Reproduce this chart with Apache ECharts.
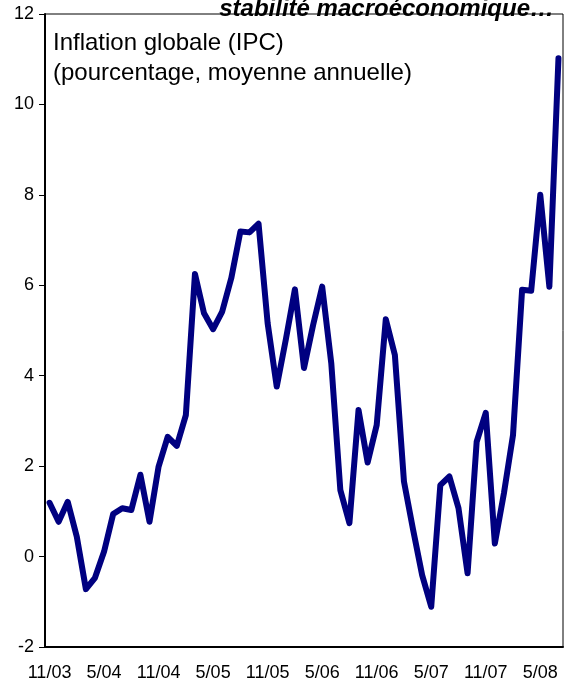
<!DOCTYPE html>
<html>
<head>
<meta charset="utf-8">
<script src="https://cdn.jsdelivr.net/npm/echarts@6/dist/echarts.min.js"></script>
<style>
  html, body { margin: 0; padding: 0; background: #fff; }
  #chart { width: 568px; height: 689px; }
</style>
</head>
<body>
<div id="chart"></div>
<script>
// mois (11/03 -> 7/08)
const months = [
  '11/03','12/03','1/04','2/04','3/04','4/04','5/04','6/04','7/04','8/04','9/04','10/04',
  '11/04','12/04','1/05','2/05','3/05','4/05','5/05','6/05','7/05','8/05','9/05','10/05',
  '11/05','12/05','1/06','2/06','3/06','4/06','5/06','6/06','7/06','8/06','9/06','10/06',
  '11/06','12/06','1/07','2/07','3/07','4/07','5/07','6/07','7/07','8/07','9/07','10/07',
  '11/07','12/07','1/08','2/08','3/08','4/08','5/08','6/08','7/08'
];

// inflation globale IPC, %
const ipc = [
  1.19, 0.77, 1.21, 0.44, -0.72, -0.47, 0.11, 0.94, 1.07, 1.03, 1.81, 0.77,
  1.99, 2.65, 2.45, 3.13, 6.25, 5.38, 5.03, 5.42, 6.16, 7.19, 7.17, 7.36,
  5.16, 3.76, 4.8, 5.91, 4.17, 5.12, 5.97, 4.28, 1.47, 0.74, 3.24, 2.08,
  2.91, 5.25, 4.46, 1.66, 0.6, -0.41, -1.11, 1.58, 1.77, 1.07, -0.37, 2.54,
  3.18, 0.29, 1.40, 2.69, 5.9, 5.88, 8.0, 5.97, 11.02
];

const yTicks = [-2, 12, 2]; // min, max, pas

const font = '"Liberation Sans", Arial, sans-serif';

var chart = echarts.init(document.getElementById('chart'));

chart.setOption({
  animation: false,
  backgroundColor: '#fff',
  title: {
    text: 'stabilité macroéconomique…',
    right: 9,
    top: -8,
    textStyle: {
      fontFamily: font,
      fontSize: 24,
      fontWeight: 'bold',
      fontStyle: 'italic',
      color: '#000'
    }
  },
  graphic: [{
    type: 'text',
    left: 53,
    top: 28,
    style: {
      text: 'Inflation globale (IPC)\n(pourcentage, moyenne annuelle)',
      font: '24px ' + font,
      lineHeight: 30,
      fill: '#000'
    }
  }],
  grid: {
    left: 45,
    right: 5,
    top: 14,
    bottom: 42,
    show: true,
    borderColor: '#000',
    borderWidth: 1
  },
  xAxis: {
    type: 'category',
    data: months,
    boundaryGap: true,
    axisLine: { onZero: false, lineStyle: { color: '#000', width: 2 } },
    axisTick: { interval: 5, length: 6, lineStyle: { color: '#000' } },
    axisLabel: {
      interval: 5,
      margin: 17,
      color: '#000',
      fontFamily: font,
      fontSize: 18
    },
    splitLine: { show: false }
  },
  yAxis: {
    type: 'value',
    min: yTicks[0],
    max: yTicks[1],
    interval: yTicks[2],
    axisLine: { show: true, lineStyle: { color: '#000', width: 2 } },
    axisTick: { show: true, length: 6, lineStyle: { color: '#000' } },
    axisLabel: {
      margin: 11,
      color: '#000',
      fontFamily: font,
      fontSize: 18
    },
    splitLine: { show: false }
  },
  series: [{
    type: 'line',
    data: ipc,
    showSymbol: false,
    symbol: 'none',
    lineStyle: { color: '#000080', width: 6, cap: 'round', join: 'round' }
  }]
});
</script>
</body>
</html>
